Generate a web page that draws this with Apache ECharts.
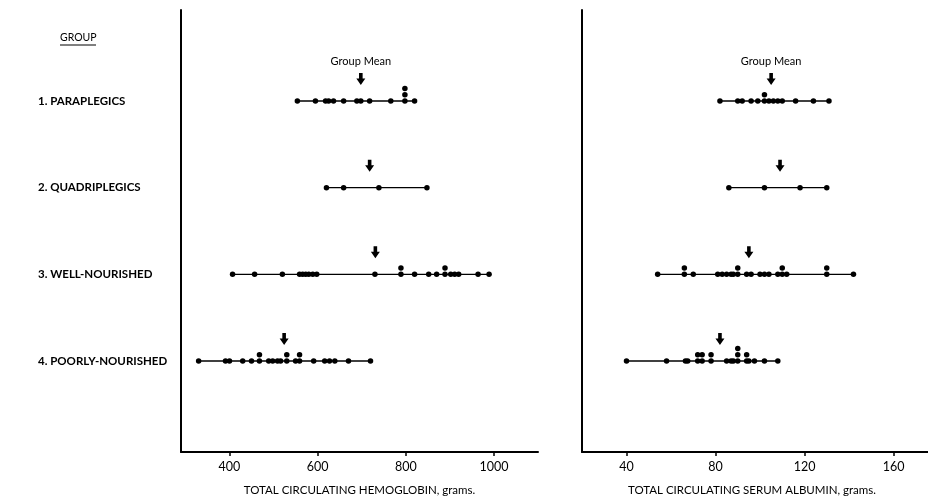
<!DOCTYPE html>
<html>
<head>
<meta charset="utf-8">
<script src="https://cdn.jsdelivr.net/npm/echarts@6/dist/echarts.min.js"></script>
<style>
html,body{margin:0;padding:0;background:#fff;}
#chart{width:928px;height:498px;}
</style>
</head>
<body>
<div id="chart"></div>
<script>
// ---- data ----
const groups = ['1. PARAPLEGICS', '2. QUADRIPLEGICS', '3. WELL-NOURISHED', '4. POORLY-NOURISHED'];

// Total circulating hemoglobin, grams
const hbParaplegics = [554, 595, 618, 625, 636, 659, 689, 698, 718, 766, 798, 798, 798, 820];
const hbQuadriplegics = [620, 659, 739, 848];
const hbWellNourished = [407, 457, 520, 559, 566, 573, 580, 589, 598, 730, 789, 789, 820, 852, 870, 889, 889, 902, 911, 920, 964, 989];
const hbPoorlyNourished = [330, 391, 400, 430, 450, 468, 468, 489, 498, 509, 516, 530, 530, 550, 559, 559, 591, 616, 627, 639, 670, 720];
const hbMeans = [698, 718, 731, 524];

// Total circulating serum albumin, grams
const alParaplegics = [82, 90, 92, 96, 99, 102, 102, 104, 106, 108, 110, 116, 124, 131];
const alQuadriplegics = [86, 102, 118, 130];
const alWellNourished = [54, 66, 66, 70, 81, 83, 85, 87, 88, 90, 90, 94, 96, 100, 102, 104, 108, 110, 110, 112, 130, 130, 142];
const alPoorlyNourished = [40, 58, 66.5, 67.5, 72, 72, 74, 74, 78, 78, 85, 87, 88, 90, 90, 90, 94, 94, 95, 97.5, 102, 108];
const alMeans = [105, 109, 95, 82];

const hbTicks = [400, 600, 800, 1000];
const alTicks = [40, 80, 120, 160];
const hbTitle = 'TOTAL CIRCULATING HEMOGLOBIN, grams.';
const alTitle = 'TOTAL CIRCULATING SERUM ALBUMIN, grams.';

// ---- build ----
const FONT = 'Lato';
const INK = '#000';
const STACK = 0.072;

function rowSeries(rows, axisIdx) {
  const out = [];
  const pts = [];
  rows.forEach((vals, i) => {
    const row = i + 1;
    const sorted = vals.slice().sort((a, b) => a - b);
    out.push({
      type: 'line', xAxisIndex: axisIdx, yAxisIndex: axisIdx,
      data: [[sorted[0], row], [sorted[sorted.length - 1], row]],
      showSymbol: false, silent: true,
      lineStyle: { color: INK, width: 1.4 }
    });
    const seen = {};
    vals.forEach(v => {
      const k = seen[v] || 0;
      seen[v] = k + 1;
      pts.push([v, row - k * STACK]);
    });
  });
  out.push({
    type: 'scatter', xAxisIndex: axisIdx, yAxisIndex: axisIdx,
    data: pts, symbol: 'circle', symbolSize: 5.5,
    itemStyle: { color: INK, opacity: 1 }, silent: true
  });
  return out;
}

const ARROW = 'path://M3,0 L7,0 L7,6 L10,6 L5,13 L0,6 L3,6 Z';
function arrowSeries(means, axisIdx) {
  return {
    type: 'scatter', xAxisIndex: axisIdx, yAxisIndex: axisIdx,
    data: means.map((m, i) => ({
      value: [m, i + 1],
      label: i === 0 ? {
        show: true, position: 'top', distance: 6,
        formatter: 'Group Mean', color: INK, fontSize: 11, fontFamily: FONT
      } : { show: false }
    })),
    symbol: ARROW, symbolSize: [9, 12], symbolOffset: [0, -22],
    itemStyle: { color: INK, opacity: 1 }, silent: true
  };
}

function xAxisOf(idx, min, max, ticks, title, pad) {
  return {
    type: 'value', gridIndex: idx, min: min, max: max,
    axisLine: { show: true, onZero: false, lineStyle: { color: INK, width: 2 } },
    axisTick: { show: true, customValues: ticks, length: 4, lineStyle: { color: INK, width: 1.5 } },
    axisLabel: { customValues: ticks, formatter: v => String(v), color: INK, fontSize: 12.5, fontFamily: FONT, margin: 8 },
    splitLine: { show: false },
    name: title, nameLocation: 'middle', nameGap: 32,
    nameTextStyle: { color: INK, fontSize: 11.5, fontFamily: FONT, padding: pad }
  };
}
function yAxisOf(idx, withLabels) {
  return {
    type: 'value', gridIndex: idx, inverse: true, min: -0.05, max: 5.05,
    axisLine: { show: true, onZero: false, lineStyle: { color: INK, width: 2 } },
    axisTick: { show: false },
    splitLine: { show: false },
    axisLabel: withLabels ? {
      show: true, customValues: [1, 2, 3, 4],
      formatter: v => groups[v - 1] || '',
      align: 'left', margin: 143, color: INK, fontSize: 11.5, fontWeight: 'bold', fontFamily: FONT
    } : { show: false }
  };
}

const chart = echarts.init(document.getElementById('chart'), null, { renderer: 'canvas' });
chart.setOption({
  animation: false,
  backgroundColor: '#fff',
  grid: [
    { left: 181, top: 10, width: 357, bottom: 46, outerBoundsMode: 'none', containLabel: false },
    { left: 582, top: 10, right: 0, bottom: 46, outerBoundsMode: 'none', containLabel: false }
  ],
  xAxis: [
    xAxisOf(0, 290, 1100, hbTicks, hbTitle, [0, 0, 0, 0]),
    xAxisOf(1, 20, 175.5, alTicks, alTitle, [0, 6, 0, 0])
  ],
  yAxis: [yAxisOf(0, true), yAxisOf(1, false)],
  graphic: [
    { type: 'text', left: 60, top: 32, style: { text: 'GROUP', fill: INK, fontSize: 10.5, fontFamily: FONT } },
    { type: 'line', shape: { x1: 60, y1: 45, x2: 96, y2: 45 }, style: { stroke: INK, lineWidth: 1 } }
  ],
  series: [
    ...rowSeries([hbParaplegics, hbQuadriplegics, hbWellNourished, hbPoorlyNourished], 0),
    arrowSeries(hbMeans, 0),
    ...rowSeries([alParaplegics, alQuadriplegics, alWellNourished, alPoorlyNourished], 1),
    arrowSeries(alMeans, 1)
  ]
});
</script>
</body>
</html>
